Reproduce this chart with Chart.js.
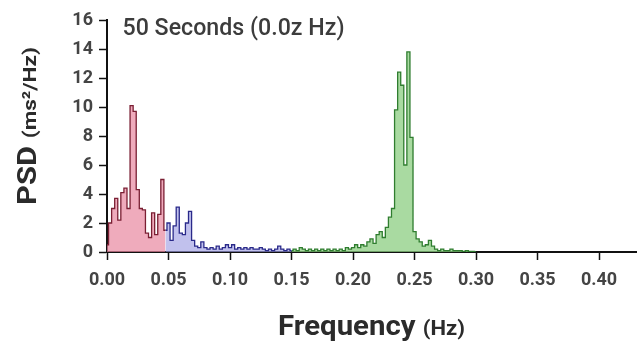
<!DOCTYPE html>
<html>
<head>
<meta charset="utf-8">
<script src="https://cdn.jsdelivr.net/npm/chart.js@4/dist/chart.umd.min.js"></script>
<style>
  html, body { margin: 0; padding: 0; background: #fff; }
  #wrap { width: 637px; height: 342px; }
</style>
</head>
<body>
<div id="wrap"><canvas id="psdChart" width="637" height="342"></canvas></div>
<script>
// Frequency grid of the spectrum (Hz)
const freqStep = 0.0025;
const vlfStart = 0;
const lfStart = 0.0475;
const hfStart = 0.15;

// PSD values (ms²/Hz), one per frequency bin
const vlfPsd = [0.5, 2.0, 3.0, 3.7, 2.2, 4.1, 4.4, 3.0, 10.1, 9.7, 4.3, 3.0, 2.9, 1.3, 1.0, 2.7, 1.2, 2.6, 5.0, 1.5];
const lfPsd = [1.5, 2.0, 0.8, 1.8, 3.1, 1.3, 1.2, 2.0, 2.8, 0.8, 0.4, 0.3, 0.7, 0.3, 0.2, 0.3, 0.2, 0.4, 0.2, 0.3,
  0.5, 0.3, 0.5, 0.2, 0.3, 0.2, 0.3, 0.2, 0.3, 0.2, 0.2, 0.3, 0.2, 0.1, 0.2, 0.1, 0.2, 0.4, 0.2, 0.1, 0.2, 0.1];
const hfPsd = [0.1, 0.2, 0.1, 0.3, 0.2, 0.1, 0.2, 0.1, 0.2, 0.1, 0.2, 0.1, 0.2, 0.1, 0.2, 0.1, 0.2, 0.1, 0.3, 0.2,
  0.3, 0.5, 0.3, 0.5, 0.4, 0.7, 0.9, 0.6, 1.2, 1.4, 1.0, 1.7, 2.4, 3.0, 9.8, 12.4, 11.5, 6.0, 13.8, 7.9,
  1.4, 0.9, 0.7, 0.4, 0.5, 0.8, 0.4, 0.2, 0.1, 0.2, 0.1, 0.1, 0.2, 0.1, 0.1, 0.1, 0.05, 0.1, 0.05, 0.05, 0];

const xTicks = [0, 0.05, 0.10, 0.15, 0.20, 0.25, 0.30, 0.35, 0.40];
const yTicks = [0, 2, 4, 6, 8, 10, 12, 14, 16];

const chartTitle = '50 Seconds (0.0z Hz)';

function toPoints(start, values) {
  return values.map((v, i) => ({ x: +(start + i * freqStep).toFixed(4), y: v }));
}

// draw text made of parts with different fonts, squeezed to a given width
function drawParts(ctx, parts, width) {
  let total = 0;
  parts.forEach(p => { ctx.font = p.font; p.w = ctx.measureText(p.text).width; total += p.w; });
  const s = width / total;
  ctx.scale(s, 1);
  let x = -total / 2;
  parts.forEach(p => { ctx.font = p.font; ctx.fillText(p.text, x, 0); x += p.w; });
}

const labelsPlugin = {
  id: 'labels',
  afterDraw(chart) {
    const ctx = chart.ctx;
    ctx.save();
    ctx.fillStyle = '#2b2b2b';
    ctx.textBaseline = 'alphabetic';
    ctx.textAlign = 'left';

    // title inside the plot
    ctx.save();
    ctx.translate(122.5 + 111, 35);
    ctx.fillStyle = '#3c3c3c';
    drawParts(ctx, [{ text: chartTitle, font: '500 23px Roboto' }], 222);
    ctx.restore();

    // x axis title
    ctx.save();
    ctx.translate(371.5, 335);
    drawParts(ctx, [
      { text: 'Frequency ', font: 'bold 28px Roboto' },
      { text: '(Hz)', font: 'bold 21px Roboto' }
    ], 187);
    ctx.restore();

    // y axis title
    ctx.save();
    ctx.translate(36, 126);
    ctx.rotate(-Math.PI / 2);
    drawParts(ctx, [
      { text: 'PSD ', font: 'bold 26px Roboto' },
      { text: '(ms²/Hz)', font: 'bold 19px Roboto' }
    ], 158);
    ctx.restore();

    ctx.restore();
  }
};

const bandStyle = (fill, line) => ({
  backgroundColor: fill,
  borderColor: line,
  borderWidth: 1.3,
  pointRadius: 0,
  fill: 'origin',
  stepped: 'middle'
});

new Chart(document.getElementById('psdChart'), {
  type: 'line',
  data: {
    datasets: [
      { label: 'VLF', data: toPoints(vlfStart, vlfPsd), ...bandStyle('rgba(232, 135, 160, 0.7)', '#7a1f33') },
      { label: 'LF', data: toPoints(lfStart, lfPsd), ...bandStyle('rgba(160, 160, 228, 0.65)', '#2a2a8a') },
      { label: 'HF', data: toPoints(hfStart, hfPsd), ...bandStyle('rgba(140, 205, 130, 0.75)', '#2f7d2f') }
    ]
  },
  options: {
    responsive: false,
    animation: false,
    layout: { padding: { top: 20, right: 1, left: 0, bottom: 0 } },
    plugins: {
      legend: { display: false },
      tooltip: { enabled: false }
    },
    scales: {
      x: {
        type: 'linear',
        min: 0,
        max: 0.43,
        afterFit(scale) { scale.height = 90; },
        afterBuildTicks(scale) { scale.ticks = xTicks.map(v => ({ value: v })); },
        grid: { drawOnChartArea: false, tickLength: 8, tickWidth: 1.5, tickColor: '#111' },
        border: { color: '#111', width: 2 },
        ticks: {
          padding: 10,
          color: '#444',
          font: { family: 'Roboto', size: 18, weight: 'bold' },
          callback: v => v.toFixed(2)
        }
      },
      y: {
        min: 0,
        max: 16,
        afterFit(scale) { scale.width = 107; },
        afterBuildTicks(scale) { scale.ticks = yTicks.map(v => ({ value: v })); },
        grid: { drawOnChartArea: false, tickLength: 8, tickWidth: 1.5, tickColor: '#111' },
        border: { color: '#111', width: 2 },
        ticks: {
          padding: 6,
          color: '#444',
          font: { family: 'Roboto', size: 18, weight: 'bold' }
        }
      }
    }
  },
  plugins: [labelsPlugin]
});
</script>
</body>
</html>
